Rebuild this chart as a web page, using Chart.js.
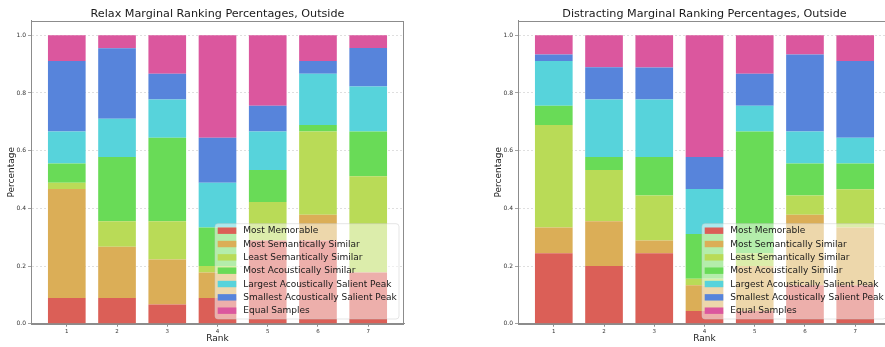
<!DOCTYPE html>
<html>
<head>
<meta charset="utf-8">
<script src="https://cdn.jsdelivr.net/npm/chart.js@4.4.1/dist/chart.umd.min.js"></script>
<style>
  html, body { margin: 0; padding: 0; background: #fff; width: 885px; height: 347px; overflow: hidden; position: relative; }
  canvas { position: absolute; top: 0; }
  #c1 { left: 0; }
  #c2 { left: 487px; }
</style>
</head>
<body>
<canvas id="c1" width="442" height="347"></canvas>
<canvas id="c2" width="442" height="347"></canvas>
<script>
// ---- data ----
const ranks = [1, 2, 3, 4, 5, 6, 7];
const yTickValues = [0, 0.2, 0.4, 0.6, 0.8, 1.0];
const seriesNames = [
  'Most Memorable',
  'Most Semantically Similar',
  'Least Semantically Similar',
  'Most Acoustically Similar',
  'Largest Acoustically Salient Peak',
  'Smallest Acoustically Salient Peak',
  'Equal Samples'
];

// Relax, Outside
const relaxMostMemorable      = [0.0889, 0.0889, 0.0667, 0.0889, 0.2889, 0.2889, 0.1778];
const relaxMostSemantic       = [0.3778, 0.1778, 0.1556, 0.0889, 0.0000, 0.0889, 0.0000];
const relaxLeastSemantic      = [0.0222, 0.0889, 0.1333, 0.0222, 0.1333, 0.2889, 0.3333];
const relaxMostAcoustic       = [0.0667, 0.2222, 0.2889, 0.1333, 0.1111, 0.0222, 0.1556];
const relaxLargestPeak        = [0.1111, 0.1333, 0.1333, 0.1556, 0.1333, 0.1778, 0.1556];
const relaxSmallestPeak       = [0.2444, 0.2444, 0.0889, 0.1556, 0.0889, 0.0444, 0.1333];
const relaxEqualSamples       = [0.0889, 0.0444, 0.1333, 0.3556, 0.2444, 0.0889, 0.0444];

// Distracting, Outside
const distrMostMemorable      = [0.2444, 0.2000, 0.2444, 0.0444, 0.0444, 0.1333, 0.1333];
const distrMostSemantic       = [0.0889, 0.1556, 0.0444, 0.0889, 0.1556, 0.2444, 0.2000];
const distrLeastSemantic      = [0.3556, 0.1778, 0.1556, 0.0222, 0.0444, 0.0667, 0.1333];
const distrMostAcoustic       = [0.0667, 0.0444, 0.1333, 0.1556, 0.4222, 0.1111, 0.0889];
const distrLargestPeak        = [0.1556, 0.2000, 0.2000, 0.1556, 0.0889, 0.1111, 0.0889];
const distrSmallestPeak       = [0.0222, 0.1111, 0.1111, 0.1111, 0.1111, 0.2667, 0.2667];
const distrEqualSamples       = [0.0667, 0.1111, 0.1111, 0.4222, 0.1333, 0.0667, 0.0889];

const colors = ['#db5f57', '#dbae57', '#b9db57', '#69db57', '#57d3db', '#5784db', '#db579e'];
const FONT = 'DejaVu Sans';

const frameAndLegend = {
  id: 'frameAndLegend',
  afterDraw(chart, args, opts) {
    const ctx = chart.ctx;
    const a = chart.chartArea;
    ctx.save();
    // title centred over the plot area
    ctx.font = '11.2px "' + FONT + '"';
    ctx.fillStyle = '#1a1a1a';
    ctx.textAlign = 'center';
    ctx.textBaseline = 'middle';
    ctx.fillText(opts.title, (a.left + a.right) / 2, 13.8);
    // frame (all four spines)
    ctx.strokeStyle = '#8c8c8c';
    ctx.lineWidth = 1;
    ctx.strokeRect(Math.round(a.left) + 0.5, Math.round(a.top) + 0.5,
                   Math.round(a.right - a.left) - 1, Math.round(a.bottom - a.top));
    // legend box
    const W = 184, H = 95.3;
    const bx = a.right - 5 - W;
    const by = a.bottom - 4.7 - H;
    const r = 3;
    ctx.beginPath();
    ctx.moveTo(bx + r, by);
    ctx.lineTo(bx + W - r, by);
    ctx.arcTo(bx + W, by, bx + W, by + r, r);
    ctx.lineTo(bx + W, by + H - r);
    ctx.arcTo(bx + W, by + H, bx + W - r, by + H, r);
    ctx.lineTo(bx + r, by + H);
    ctx.arcTo(bx, by + H, bx, by + H - r, r);
    ctx.lineTo(bx, by + r);
    ctx.arcTo(bx, by, bx + r, by, r);
    ctx.closePath();
    ctx.fillStyle = 'rgba(255,255,255,0.5)';
    ctx.fill();
    ctx.strokeStyle = 'rgba(200,200,200,0.6)';
    ctx.lineWidth = 0.8;
    ctx.stroke();
    ctx.font = '9px "' + FONT + '"';
    ctx.textBaseline = 'middle';
    ctx.textAlign = 'left';
    chart.data.datasets.forEach((ds, i) => {
      const cy = by + 7 + i * 13.33;
      ctx.fillStyle = ds.backgroundColor;
      ctx.fillRect(bx + 2.7, cy - 3.2, 18.6, 6.4);
      ctx.fillStyle = '#1a1a1a';
      ctx.fillText(ds.label, bx + 28.3, cy + 0.3);
    });
    ctx.restore();
  }
};

function makeChart(id, titleText, series) {
  const datasets = series.map((vals, i) => ({
    label: seriesNames[i],
    data: vals,
    backgroundColor: colors[i],
    borderWidth: 0,
    barPercentage: 0.75,
    categoryPercentage: 1.0
  }));
  return new Chart(document.getElementById(id), {
    type: 'bar',
    data: { labels: ranks, datasets },
    plugins: [frameAndLegend],
    options: {
      responsive: false,
      animation: false,
      devicePixelRatio: 1,
      layout: { padding: { left: 0, right: 38, top: 20.9, bottom: 0 } },
      plugins: {
        legend: { display: false },
        tooltip: { enabled: false },
        title: { display: false },
        frameAndLegend: { title: titleText }
      },
      scales: {
        x: {
          type: 'linear',
          stacked: true,
          offset: false,
          min: 0.2875,
          max: 7.7125,
          afterBuildTicks: s => { s.ticks = ranks.map(v => ({ value: v })); },
          afterFit: s => { s.height = 23.3; },
          ticks: { font: { family: FONT, size: 5.5 }, color: '#333', padding: 2, callback: v => String(v) },
          grid: { offset: false, drawOnChartArea: false, drawTicks: true, tickLength: 3, tickColor: '#8c8c8c' },
          border: { color: '#8c8c8c', width: 1 },
          title: { display: true, text: 'Rank', color: '#1a1a1a', font: { family: FONT, size: 9 }, padding: { top: 0, bottom: 2.6 } }
        },
        y: {
          stacked: true,
          min: 0,
          max: 1.05,
          afterBuildTicks: s => { s.ticks = yTickValues.map(v => ({ value: v })); },
          afterFit: s => { s.width = 31; },
          ticks: { font: { family: FONT, size: 6 }, color: '#333', padding: 2, callback: v => Number(v).toFixed(1) },
          grid: { color: 'rgba(0,0,0,0.16)', lineWidth: 0.8, tickLength: 3, tickColor: '#8c8c8c', tickBorderDash: [] },
          border: { color: '#8c8c8c', width: 1, dash: [2, 2] },
          title: { display: true, text: 'Percentage', color: '#1a1a1a', font: { family: FONT, size: 9 }, padding: { top: 6.6, bottom: 0 } }
        }
      }
    }
  });
}

makeChart('c1', 'Relax Marginal Ranking Percentages, Outside',
  [relaxMostMemorable, relaxMostSemantic, relaxLeastSemantic, relaxMostAcoustic, relaxLargestPeak, relaxSmallestPeak, relaxEqualSamples]);
makeChart('c2', 'Distracting Marginal Ranking Percentages, Outside',
  [distrMostMemorable, distrMostSemantic, distrLeastSemantic, distrMostAcoustic, distrLargestPeak, distrSmallestPeak, distrEqualSamples]);
</script>
</body>
</html>
